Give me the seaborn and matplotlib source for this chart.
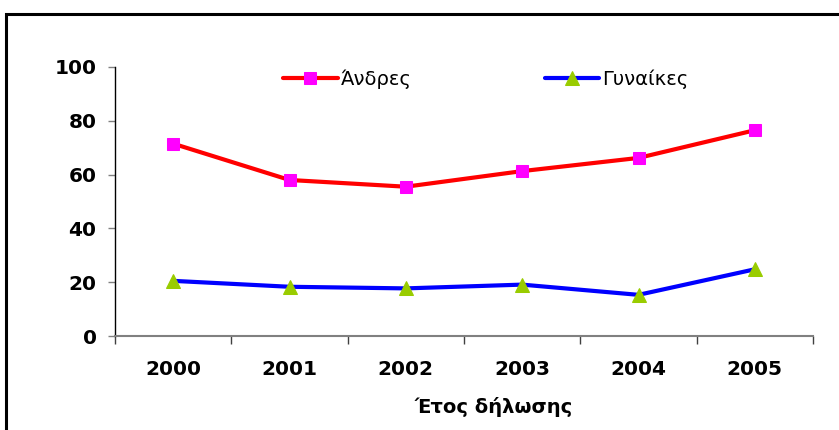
import matplotlib.pyplot as plt
import matplotlib.patches as mpatches
import pandas as pd
import seaborn as sns

years = ["2000", "2001", "2002", "2003", "2004", "2005"]
men = [71.5, 58.0, 55.5, 61.3, 66.2, 76.5]
women = [20.5, 18.3, 17.7, 19.1, 15.3, 24.8]

sns.set_style("white")
plt.rcParams["font.family"] = ["DejaVu Sans"]
plt.rcParams["text.color"] = "black"
plt.rcParams["xtick.color"] = "black"
plt.rcParams["ytick.color"] = "black"
plt.rcParams["axes.labelcolor"] = "black"

df = pd.DataFrame({"pos": range(len(years)), "men": men, "women": women})

fig = plt.figure(figsize=(8.39, 4.30), dpi=100)
ax = fig.add_axes([115 / 839, 1 - 336 / 430, (813 - 115) / 839, (336 - 67) / 430])

sns.lineplot(data=df, x="pos", y="men", ax=ax, color="#ff0000", lw=3,
             marker="s", markersize=9, markerfacecolor="#ff00ff",
             markeredgecolor="#ff00ff", label="Άνδρες")
sns.lineplot(data=df, x="pos", y="women", ax=ax, color="#0000ff", lw=3,
             marker="^", markersize=10, markerfacecolor="#99cc00",
             markeredgecolor="#99cc00", label="Γυναίκες")

ax.set_xlim(-0.5, len(years) - 0.5)
ax.set_ylim(0, 100)
ax.set_yticks(range(0, 101, 20))
ax.set_yticklabels([str(v) for v in range(0, 101, 20)], fontsize=14.5, fontweight="bold")

# category labels on minor ticks, tick marks between categories
ax.set_xticks([i - 0.5 for i in range(len(years) + 1)])
ax.set_xticklabels([])
ax.set_xticks(range(len(years)), minor=True)
ax.set_xticklabels(years, minor=True, fontsize=14.5, fontweight="bold")
ax.tick_params(axis="x", which="minor", bottom=True, length=0, pad=17)
ax.tick_params(axis="x", which="major", bottom=True, length=6, width=1,
               color="#404040", direction="out")
ax.tick_params(axis="y", left=True, length=5.3, width=1, color="#808080",
               direction="out", pad=8)

for s in ["top", "right"]:
    ax.spines[s].set_visible(False)
ax.spines["left"].set_color("black")
ax.spines["left"].set_linewidth(1)
ax.spines["bottom"].set_color("#808080")
ax.spines["bottom"].set_linewidth(1.5)

ax.set_xlabel("Έτος δήλωσης", fontsize=14, fontweight="bold")
ax.xaxis.set_label_coords(0.543, -0.225)
ax.set_ylabel("")

ax.legend(loc="upper center", bbox_to_anchor=(0.531, 1.057), ncol=2, frameon=False,
          fontsize=14, columnspacing=6.85, handlelength=2.8, handletextpad=0.15)

border = mpatches.Rectangle((6 / 839, -0.1), 1.1, 1.1 - 14 / 430, transform=fig.transFigure,
                            fill=False, edgecolor="black", lw=2.2, clip_on=False)
fig.patches.append(border)

fig.savefig("out.png", dpi=100)
